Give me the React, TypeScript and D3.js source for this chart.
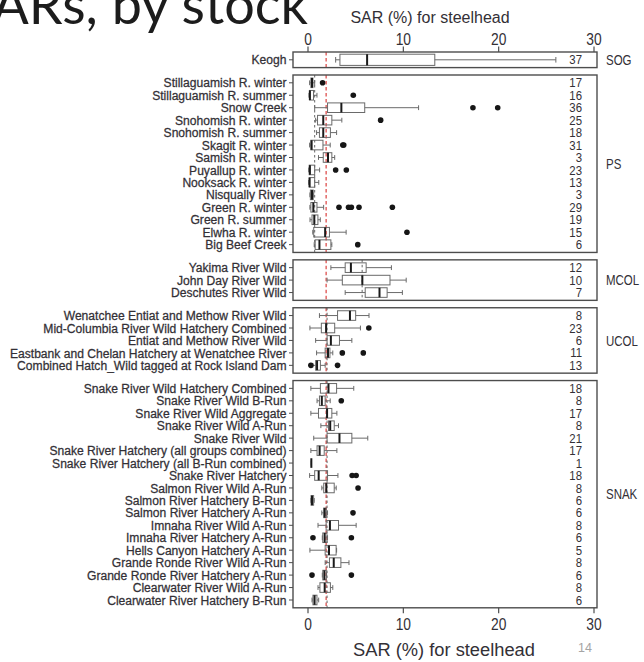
import React from "react";
import * as d3 from "d3";

// Stock groups (panels) and the stocks in each, top to bottom
const groupNames = ["SOG", "PS", "MCOL", "UCOL", "SNAK"];

const stockNames = [
  "Keogh",
  "Stillaguamish R. winter",
  "Stillaguamish R. summer",
  "Snow Creek",
  "Snohomish R. winter",
  "Snohomish R. summer",
  "Skagit R. winter",
  "Samish R. winter",
  "Puyallup R. winter",
  "Nooksack R. winter",
  "Nisqually River",
  "Green R. winter",
  "Green R. summer",
  "Elwha R. winter",
  "Big Beef Creek",
  "Yakima River Wild",
  "John Day River Wild",
  "Deschutes River Wild",
  "Wenatchee Entiat and Methow River Wild",
  "Mid-Columbia River Wild Hatchery Combined",
  "Entiat and Methow River Wild",
  "Eastbank and Chelan Hatchery at Wenatchee River",
  "Combined Hatch_Wild tagged at Rock Island Dam",
  "Snake River Wild Hatchery Combined",
  "Snake River Wild B-Run",
  "Snake River Wild Aggregate",
  "Snake River Wild A-Run",
  "Snake River Wild",
  "Snake River Hatchery (all groups combined)",
  "Snake River Hatchery (all B-Run combined)",
  "Snake River Hatchery",
  "Salmon River Wild A-Run",
  "Salmon River Hatchery B-Run",
  "Salmon River Hatchery A-Run",
  "Imnaha River Wild A-Run",
  "Imnaha River Hatchery A-Run",
  "Hells Canyon Hatchery A-Run",
  "Grande Ronde River Wild A-Run",
  "Grande Ronde River Hatchery A-Run",
  "Clearwater River Wild A-Run",
  "Clearwater River Hatchery B-Run",
];

const stockGroup = [
  0,
  1, 1, 1, 1, 1, 1, 1, 1, 1, 1, 1, 1, 1, 1,
  2, 2, 2,
  3, 3, 3, 3, 3,
  4, 4, 4, 4, 4, 4, 4, 4, 4, 4, 4, 4, 4, 4, 4, 4, 4, 4,
];

// Number of years per stock
const counts = [
  37,
  17, 16, 36, 25, 18, 31, 3, 23, 13, 3, 29, 19, 15, 6,
  12, 10, 7,
  8, 23, 6, 11, 13,
  18, 8, 17, 8, 21, 17, 1, 18, 8, 6, 6, 8, 6, 5, 8, 6, 8, 6,
];

// Box-plot statistics, SAR (%)
const whiskerLow = [
  2.9,
  0.17, 0.1, 0.7, 0.8, 0.9, 0.17, 1.1, 0.07, 0.07, 0.2, 0.2, 0.21, 0.5, 0.65,
  2.4, 2.0, 3.9,
  1.2, 0.2, 0.8, 0.9, 0.5,
  0.3, 0.95, 0.3, 1.35, 0.6, 0.3, 0.35, 0.17, 1.45, 0.3, 1.45, 1.05, 1.5, 0.2, 1.8, 1.5, 1.05, 0.42,
];
const lowerQuartile = [
  3.35,
  0.3, 0.15, 2.05, 1.0, 1.2, 0.3, 1.6, 0.13, 0.13, 0.25, 0.3, 0.42, 0.6, 0.75,
  3.9, 3.6, 6.0,
  3.1, 1.4, 2.0, 1.8, 0.8,
  1.3, 1.2, 1.1, 2.15, 2.0, 0.95, 0.35, 0.7, 1.65, 0.32, 1.65, 1.9, 1.55, 1.8, 2.25, 1.55, 1.25, 0.52,
];
const medians = [
  6.2,
  0.42, 0.2, 3.5, 1.6, 1.6, 0.38, 2.1, 0.2, 0.17, 0.42, 0.56, 0.66, 1.8, 1.2,
  4.5, 5.7, 7.5,
  4.4, 1.9, 2.4, 2.1, 0.95,
  2.15, 1.45, 2.0, 2.33, 3.3, 1.22, 0.35, 1.12, 1.92, 0.42, 1.75, 2.3, 1.75, 2.2, 2.7, 1.72, 1.75, 0.69,
];
const upperQuartile = [
  13.3,
  0.52, 0.58, 5.95, 2.5, 2.35, 1.57, 2.5, 0.7, 0.7, 0.55, 0.94, 1.04, 2.25, 2.4,
  6.1, 8.6, 8.3,
  5.0, 2.8, 3.3, 2.3, 1.3,
  3.0, 1.8, 2.5, 2.75, 4.6, 1.7, 0.35, 2.05, 2.75, 0.59, 1.92, 3.2, 1.99, 2.95, 3.45, 1.92, 2.35, 0.94,
];
const whiskerHigh = [
  26.0,
  0.7, 0.94, 11.6, 3.55, 3.0, 2.33, 2.8, 1.22, 1.13, 0.6, 1.64, 1.29, 4.0, 2.5,
  8.75, 10.3, 9.9,
  6.4, 5.5, 4.6, 2.6, 1.8,
  4.8, 2.33, 3.03, 3.2, 6.27, 3.03, 0.35, 3.14, 2.96, 0.65, 2.05, 5.05, 2.05, 3.0, 4.3, 1.95, 2.6, 1.12,
];
const outliers: number[][] = [
  [],
  [1.53], [4.75], [17.3, 19.9], [7.62], [], [3.65, 3.75], [], [2.9, 4.02], [], [], [3.25, 4.25, 4.55, 5.35, 8.85], [], [10.38], [5.22],
  [], [], [],
  [], [6.38], [], [3.6, 5.8], [0.3, 3.1],
  [], [3.49], [], [], [], [], [], [4.63, 5.05], [5.25], [], [4.72], [], [0.52, 4.55], [], [], [0.42, 4.55], [], [],
];

// Dashed reference lines: overall (red) and per group (black)
const overallReference = 1.9;
const groupReference: (number | null)[] = [null, 0.7, 5.68, 2.0, 2.0];

const axisTicks = [0, 10, 20, 30];
const axisTitle = "SAR (%) for steelhead";
const slideTitle = "SARs, by stock";
const pageNumber = "14";

// Layout
const W = 644;
const H = 662;
const plotLeft = 293;
const plotRight = 597;
const firstTop = 52;
const rowStep = 12.45;
const pad = 7.8;
const gap = 7.4;

const textColor = "#333036";
const frameColor = "#4d4d4d";
const boxColor = "#6a6a6a";

const x = d3.scaleLinear().domain([0, 30]).range([308, 594]);

type Panel = {
  group: number;
  top: number;
  bottom: number;
  y: d3.ScalePoint<string>;
  stocks: number[];
};

function buildPanels(): Panel[] {
  const panels: Panel[] = [];
  let top = firstTop;
  groupNames.forEach((_, g) => {
    const stocks = stockNames.map((_, i) => i).filter((i) => stockGroup[i] === g);
    const n = stocks.length;
    const y = d3
      .scalePoint<string>()
      .domain(stocks.map((i) => stockNames[i]))
      .range([top + pad, top + pad + (n - 1) * rowStep]);
    const bottom = top + pad * 2 + (n - 1) * rowStep;
    panels.push({ group: g, top, bottom, y, stocks });
    top = bottom + gap;
  });
  return panels;
}

const font = "'Liberation Sans', Arial, sans-serif";

export default function App() {
  const panels = buildPanels();
  const lastBottom = panels[panels.length - 1].bottom;
  const firstTopEdge = panels[0].top;

  return (
    <svg
      width={W}
      height={H}
      viewBox={`0 0 ${W} ${H}`}
      style={{ position: "absolute", left: 0, top: 0, background: "#fff" }}
      fontFamily={font}
    >
      <rect x={0} y={0} width={W} height={H} fill="#fff" />

      {/* Slide heading, clipped at the left page edge */}
      <text
        x={308}
        y={24}
        textAnchor="end"
        fontFamily="Lato, 'Open Sans', sans-serif"
        fontSize={54}
        fill="#1c1c1c"
      >
        {slideTitle}
      </text>

      {/* Top axis */}
      <text x={430} y={23} textAnchor="middle" fontSize={16} fill={textColor}>
        {axisTitle}
      </text>
      {axisTicks.map((t) => (
        <g key={`tt${t}`}>
          <line x1={x(t)} x2={x(t)} y1={firstTopEdge} y2={firstTopEdge - 5.5} stroke={frameColor} strokeWidth={1.2} />
          <text transform={`translate(${x(t)},45) scale(1,1.15)`} textAnchor="middle" fontSize={13.8} fill={textColor}>
            {t}
          </text>
        </g>
      ))}

      {/* Bottom axis */}
      {axisTicks.map((t) => (
        <g key={`bt${t}`}>
          <line x1={x(t)} x2={x(t)} y1={lastBottom} y2={lastBottom + 5.5} stroke={frameColor} strokeWidth={1.2} />
          <text transform={`translate(${x(t)},630) scale(1,1.15)`} textAnchor="middle" fontSize={13.8} fill={textColor}>
            {t}
          </text>
        </g>
      ))}
      <text x={444} y={656} textAnchor="middle" fontSize={18.3} fill={textColor}>
        {axisTitle}
      </text>
      <text x={585} y={652} textAnchor="middle" fontSize={12.5} fill="#a5a5a5">
        {pageNumber}
      </text>

      {panels.map((p) => {
        const ref = groupReference[p.group];
        const single = p.stocks.length === 1;
        const bh = single ? 11.2 : 9.6;
        return (
          <g key={`p${p.group}`}>
            {/* Reference lines */}
            <line
              x1={x(overallReference)}
              x2={x(overallReference)}
              y1={p.top}
              y2={p.bottom}
              stroke="#d8302e"
              strokeWidth={1.1}
              strokeDasharray="3.5,2.5"
            />
            {ref !== null && (
              <line
                x1={x(ref)}
                x2={x(ref)}
                y1={p.top}
                y2={p.bottom}
                stroke="#555"
                strokeWidth={0.9}
                strokeDasharray="2.5,2.5"
              />
            )}

            {p.stocks.map((i) => {
              const cy = p.y(stockNames[i]) as number;
              const staple = bh / 2;
              return (
                <g key={`s${i}`}>
                  {/* Category tick and label */}
                  <line x1={plotLeft - 4} x2={plotLeft} y1={cy} y2={cy} stroke={frameColor} strokeWidth={1} />
                  <text
                    transform={`translate(${plotLeft - 6.5},${cy}) scale(1,1.06)`}
                    textAnchor="end"
                    dy="0.36em"
                    fontSize={12.1}
                    fill={textColor}
                    stroke={textColor}
                    strokeWidth={0.25}
                  >
                    {stockNames[i]}
                  </text>

                  {/* Whiskers and staples */}
                  <line x1={x(whiskerLow[i])} x2={x(lowerQuartile[i])} y1={cy} y2={cy} stroke={boxColor} strokeWidth={1} />
                  <line x1={x(upperQuartile[i])} x2={x(whiskerHigh[i])} y1={cy} y2={cy} stroke={boxColor} strokeWidth={1} />
                  <line x1={x(whiskerLow[i])} x2={x(whiskerLow[i])} y1={cy - staple / 2} y2={cy + staple / 2} stroke={boxColor} strokeWidth={1} />
                  <line x1={x(whiskerHigh[i])} x2={x(whiskerHigh[i])} y1={cy - staple / 2} y2={cy + staple / 2} stroke={boxColor} strokeWidth={1} />

                  {/* Box and median */}
                  <rect
                    x={x(lowerQuartile[i])}
                    y={cy - bh / 2}
                    width={Math.max(0, x(upperQuartile[i]) - x(lowerQuartile[i]))}
                    height={bh}
                    fill="none"
                    stroke={boxColor}
                    strokeWidth={1}
                  />
                  <line
                    x1={x(medians[i])}
                    x2={x(medians[i])}
                    y1={cy - bh / 2}
                    y2={cy + bh / 2}
                    stroke="#1a1a1a"
                    strokeWidth={2}
                  />

                  {/* Outliers */}
                  {outliers[i].map((v, k) => (
                    <circle key={k} cx={x(v)} cy={cy} r={2.8} fill="#161616" />
                  ))}

                  {/* Number of years */}
                  <text
                    transform={`translate(582,${cy}) scale(1,1.12)`}
                    textAnchor="end"
                    dy="0.36em"
                    fontSize={11.4}
                    fill={textColor}
                  >
                    {counts[i]}
                  </text>
                </g>
              );
            })}

            {/* Panel frame */}
            <rect
              x={plotLeft}
              y={p.top}
              width={plotRight - plotLeft}
              height={p.bottom - p.top}
              fill="none"
              stroke={frameColor}
              strokeWidth={1.4}
            />

            {/* Group label */}
            <text
              transform={`translate(606,${(p.top + p.bottom) / 2}) scale(1,1.22)`}
              dy="0.36em"
              fontSize={11.5}
              fill={textColor}
            >
              {groupNames[p.group]}
            </text>
          </g>
        );
      })}
    </svg>
  );
}
